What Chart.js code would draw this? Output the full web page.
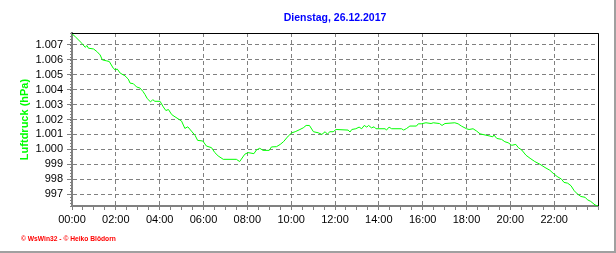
<!DOCTYPE html>
<html lang="de">
<head>
<meta charset="utf-8">
<title>Luftdruck 26.12.2017</title>
<script src="https://cdn.jsdelivr.net/npm/chart.js@4.4.1/dist/chart.umd.min.js"></script>
<style>
  html, body { margin: 0; padding: 0; background: #fff; }
  #wrap { width: 616px; height: 253px; }
</style>
</head>
<body>
<div id="wrap"><canvas id="pressureChart" width="616" height="253"></canvas></div>
<script>
// Messzeitpunkte (Minuten seit 00:00)
const times = [0,9,27,36,41,45,59,68,77,83,95,102,113,118,124,132,145,154,159,168,
  177,186,194,200,206,215,221,227,241,250,257,264,273,282,291,300,309,317,327,337,
  344,358,368,382,391,400,414,450,459,473,482,498,505,514,523,540,546,560,570,579,
  592,602,611,624,633,641,650,661,674,684,693,699,706,715,723,756,761,766,777,786,
  793,800,807,812,820,827,832,857,861,868,875,902,908,916,925,943,948,956,969,983,
  989,1006,1013,1021,1048,1057,1066,1080,1087,1098,1108,1117,1131,1144,1152,1155,1163,1176,1185,1194,
  1204,1215,1222,1231,1243,1254,1267,1281,1295,1308,1317,1328,1340,1347,1357,1366,1375,1384,1393,1405,
  1411,1420,1432,1440];

// Luftdruck (hPa)
const pressure = [1007.75,1007.55,1007.11,1006.84,1006.96,1006.78,1006.73,1006.56,1006.33,1006.0,
  1005.93,1005.89,1005.44,1005.33,1005.38,1005.11,1004.93,1004.71,1004.44,1004.4,
  1004.18,1004.11,1003.89,1003.67,1003.4,1003.18,1003.33,1003.22,1003.22,1002.84,
  1002.6,1002.67,1002.33,1002.18,1002.04,1001.89,1001.4,1001.51,1001.22,1000.93,
  1000.6,1000.56,1000.22,1000.11,999.78,999.56,999.33,999.33,999.18,999.67,
  999.78,999.71,999.96,1000.07,999.93,999.93,1000.16,1000.18,1000.33,1000.51,
  1000.89,1001.11,1001.18,1001.33,1001.44,1001.6,1001.6,1001.18,1001.11,1001.0,
  1001.18,1001.02,1001.18,1001.18,1001.33,1001.29,1001.16,1001.33,1001.38,1001.49,
  1001.38,1001.6,1001.49,1001.6,1001.44,1001.51,1001.38,1001.38,1001.29,1001.49,
  1001.38,1001.38,1001.29,1001.4,1001.56,1001.56,1001.71,1001.71,1001.78,1001.73,
  1001.78,1001.73,1001.6,1001.73,1001.78,1001.71,1001.56,1001.38,1001.33,1001.38,
  1001.22,1001.04,1000.96,1000.89,1000.84,1000.96,1000.73,1000.67,1000.51,1000.44,
  1000.27,1000.33,1000.11,999.96,999.6,999.4,999.18,999.0,998.78,998.6,
  998.4,998.18,998.0,997.78,997.73,997.56,997.22,997.0,996.84,996.78,
  996.62,996.51,996.27,996.2];

// Achsen / Texte
const chartTitle = "Dienstag, 26.12.2017";
const yTitle = "Luftdruck (hPa)";
const footerText = "\u00A9 WsWin32 - \u00A9 Heiko Bl\u00F6dorn";
const xMin = 0, xMax = 1440;        // 00:00 - 24:00
const yMin = 996.2, yMax = 1007.8;

const FONT = '"Liberation Sans", Arial, sans-serif';
const GRID = "#808080";

// 1007 -> "1.007", 999 -> "999"
function formatPressure(v) {
  if (v >= 1000) return "1." + String(Math.round(v - 1000)).padStart(3, "0");
  return String(v);
}

// Minuten -> "HH:MM" (nur alle 2 Stunden beschriftet)
function formatTime(v) {
  if (v % 120 !== 0 || v >= 1440) return "";
  const h = Math.floor(v / 60);
  return String(h).padStart(2, "0") + ":00";
}

// Titel, Rahmen, Fusszeile, kleine Striche an der Y-Achse
const decorations = {
  id: "decorations",
  afterDraw(chart) {
    const { ctx, chartArea: a } = chart;
    const yScale = chart.scales.y;
    ctx.save();
    // Hilfsstriche an der linken Achse (alle 0,2 hPa)
    ctx.fillStyle = GRID;
    for (let i = Math.ceil(yMin * 5); i <= Math.floor(yMax * 5); i++) {
      const py = Math.round(yScale.getPixelForValue(i / 5));
      ctx.fillRect(a.left - 2, py, 1, 1);
    }
    // schwarzer Rahmen oben + rechts
    ctx.strokeStyle = "#000";
    ctx.lineWidth = 1;
    ctx.beginPath();
    ctx.moveTo(a.left, a.top + 0.5);
    ctx.lineTo(a.right + 0.5, a.top + 0.5);
    ctx.lineTo(a.right + 0.5, a.bottom);
    ctx.stroke();
    // grauer Aussenrahmen rechts + unten
    ctx.strokeStyle = "#a0a0a0";
    ctx.lineWidth = 2;
    ctx.beginPath();
    ctx.moveTo(0, 252);
    ctx.lineTo(615, 252);
    ctx.lineTo(615, 0);
    ctx.stroke();
    // Titel
    ctx.fillStyle = "#0000ff";
    ctx.font = "bold 10.5px " + FONT;
    ctx.textAlign = "center";
    ctx.textBaseline = "middle";
    ctx.fillText(chartTitle, (a.left + a.right) / 2, 18);
    // Fusszeile
    ctx.fillStyle = "#ff0000";
    ctx.font = "bold 6.7px " + FONT;
    ctx.textAlign = "left";
    ctx.fillText(footerText, 21, 239);
    ctx.restore();
  }
};

const points = times.map((t, i) => ({ x: t, y: pressure[i] }));

new Chart(document.getElementById("pressureChart"), {
  type: "line",
  data: {
    datasets: [{
      label: yTitle,
      data: points,
      borderColor: "#00ff00",
      borderWidth: 1,
      pointRadius: 0,
      tension: 0,
      fill: false
    }]
  },
  options: {
    responsive: false,
    animation: false,
    layout: { padding: { top: 33, right: 18, bottom: 0, left: 0 } },
    plugins: {
      legend: { display: false },
      tooltip: { enabled: false }
    },
    scales: {
      x: {
        type: "linear",
        min: xMin,
        max: xMax,
        afterFit: (scale) => { scale.height = 47; },
        ticks: {
          stepSize: 30,
          autoSkip: false,
          maxRotation: 0,
          padding: 3,
          color: "#000",
          font: { family: FONT, size: 11 },
          callback: formatTime
        },
        grid: {
          color: (ctx) => (ctx.tick && ctx.tick.value % 120 === 0 ? GRID : "rgba(0,0,0,0)"),
          tickColor: GRID,
          tickLength: 4
        },
        border: { color: GRID, width: 2, dash: [4, 3] }
      },
      y: {
        min: yMin,
        max: yMax,
        afterFit: (scale) => { scale.width = 72; },
        ticks: {
          stepSize: 1,
          includeBounds: false,
          padding: 4,
          color: "#000",
          font: { family: FONT, size: 11 },
          callback: formatPressure
        },
        grid: { color: GRID, tickColor: GRID, tickLength: 5 },
        border: { color: GRID, width: 2, dash: [4, 3] },
        title: {
          display: true,
          text: yTitle,
          color: "#00ff00",
          font: { family: FONT, size: 11, weight: "bold" },
          padding: { top: 18, bottom: 0 }
        }
      }
    }
  },
  plugins: [decorations]
});
</script>
</body>
</html>
